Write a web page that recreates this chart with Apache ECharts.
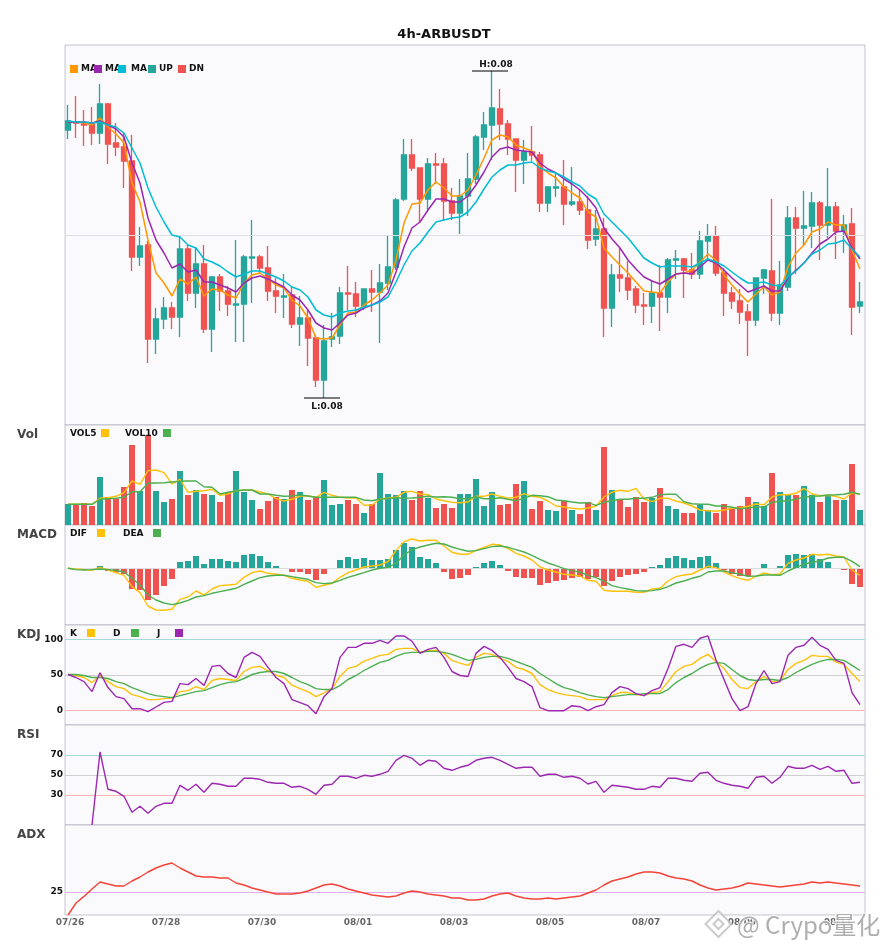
<!DOCTYPE html>
<html>
<head>
<meta charset="utf-8">
<style>html,body{margin:0;padding:0;background:#fff}#chart{width:885px;height:950px}</style>
<script src="https://cdn.jsdelivr.net/npm/echarts@6/dist/echarts.min.js"></script>
</head>
<body>
<div id="chart"></div>
<script>
var chartTitle = '4h-ARBUSDT';
var tickIndexes = [0,12,24,36,48,60,72,84,96];
var tickLabels = ['07/26','07/28','07/30','08/01','08/03','08/05','08/07','08/09','08/11'];

var opens = [0.08105,0.08113,0.08112,0.08111,0.08102,0.08131,0.08092,0.08088,0.08074,0.07978,0.0799,0.07896,0.07916,0.07927,0.07918,0.07986,0.07942,0.07971,0.07906,0.07958,0.07944,0.0793,0.07931,0.07977,0.07978,0.07967,0.07944,0.07938,0.0794,0.07911,0.07917,0.07897,0.07855,0.07896,0.07899,0.07942,0.07941,0.07929,0.07946,0.07943,0.07952,0.07968,0.08036,0.0808,0.08067,0.08036,0.08071,0.08071,0.08034,0.08022,0.08039,0.08056,0.08098,0.0811,0.08126,0.08111,0.08096,0.08075,0.08083,0.0808,0.08032,0.08047,0.08048,0.08031,0.08033,0.08025,0.07996,0.08006,0.07927,0.0796,0.07957,0.07946,0.0793,0.07929,0.07942,0.07938,0.07975,0.07976,0.07965,0.07961,0.07994,0.07999,0.07962,0.07942,0.07934,0.07923,0.07915,0.07957,0.07964,0.07922,0.07948,0.08017,0.08007,0.08009,0.08032,0.0801,0.08028,0.08004,0.08011,0.07929];
var closes = [0.08114,0.08112,0.0811,0.08102,0.08131,0.08091,0.08088,0.08074,0.07978,0.07989,0.07896,0.07916,0.07927,0.07918,0.07986,0.07942,0.07971,0.07906,0.07958,0.07944,0.07931,0.07931,0.07978,0.07978,0.07967,0.07944,0.07939,0.07939,0.07911,0.07917,0.07897,0.07855,0.07894,0.07898,0.07942,0.07941,0.07929,0.07946,0.07943,0.07952,0.07968,0.08035,0.0808,0.08067,0.08036,0.08071,0.0807,0.08034,0.08022,0.08039,0.08056,0.08098,0.0811,0.08127,0.08111,0.08096,0.08075,0.08083,0.0808,0.08032,0.08048,0.08048,0.08031,0.08033,0.08025,0.07995,0.08006,0.07927,0.0796,0.07957,0.07945,0.0793,0.07929,0.07942,0.07938,0.07975,0.07976,0.07965,0.07961,0.07994,0.07999,0.07962,0.07942,0.07934,0.07923,0.07915,0.07957,0.07965,0.07922,0.0795,0.08017,0.08007,0.08009,0.08032,0.0801,0.08028,0.08004,0.0801,0.07928,0.07933];
var lows = [0.08096,0.08097,0.08089,0.0809,0.08091,0.08071,0.08079,0.08047,0.07964,0.07969,0.07872,0.07881,0.07906,0.07906,0.07898,0.07934,0.07927,0.07902,0.07883,0.07924,0.07919,0.07893,0.07893,0.07932,0.07961,0.07934,0.07922,0.07917,0.07907,0.07889,0.07869,0.07848,0.07837,0.07888,0.07891,0.07925,0.07918,0.07925,0.07923,0.07892,0.07945,0.07965,0.08034,0.08064,0.08012,0.08025,0.08051,0.08015,0.08015,0.08001,0.08019,0.08051,0.08085,0.08075,0.08095,0.0808,0.08043,0.08051,0.08074,0.08023,0.08023,0.08038,0.0801,0.08029,0.0802,0.07986,0.07989,0.07898,0.07908,0.07943,0.07935,0.07922,0.0791,0.07912,0.07904,0.07922,0.07956,0.07937,0.07956,0.07956,0.07975,0.07959,0.07919,0.07926,0.07911,0.07879,0.07909,0.07941,0.07914,0.0791,0.07944,0.07961,0.0799,0.07987,0.07975,0.07997,0.07976,0.07982,0.079,0.07922];
var highs = [0.0813,0.08139,0.08125,0.08128,0.08151,0.08132,0.08112,0.08102,0.081,0.08008,0.07994,0.07927,0.07938,0.07933,0.08,0.0799,0.07988,0.0799,0.07959,0.07961,0.07949,0.07995,0.0798,0.08015,0.0798,0.07989,0.07957,0.07961,0.07948,0.07939,0.07925,0.079,0.0791,0.07922,0.07948,0.07969,0.07953,0.07946,0.07965,0.07971,0.07999,0.08037,0.08096,0.08096,0.08067,0.08077,0.08082,0.08077,0.08047,0.08056,0.08082,0.081,0.08123,0.08164,0.08146,0.08115,0.08096,0.08095,0.08109,0.08083,0.08049,0.08061,0.08075,0.08068,0.08045,0.08039,0.08025,0.08017,0.07971,0.07987,0.07974,0.07949,0.07942,0.07955,0.0797,0.07977,0.07985,0.07977,0.07982,0.08004,0.08011,0.08009,0.07967,0.07948,0.07946,0.07931,0.07957,0.07966,0.08036,0.07974,0.08029,0.08028,0.08044,0.08043,0.08034,0.08067,0.08033,0.0802,0.08027,0.07953];
var ma5 = [0.08113,0.08113,0.08112,0.0811,0.08117,0.08108,0.08101,0.08092,0.08052,0.08033,0.07995,0.07962,0.07952,0.07939,0.07956,0.07951,0.07958,0.07939,0.07946,0.07945,0.0794,0.07937,0.07952,0.0796,0.07962,0.07956,0.0795,0.07947,0.07935,0.07929,0.07917,0.07897,0.07896,0.07897,0.0791,0.07922,0.07923,0.0793,0.07935,0.07942,0.0795,0.07975,0.08012,0.08031,0.08032,0.08045,0.08053,0.08047,0.08039,0.08039,0.08045,0.0806,0.08077,0.08095,0.081,0.08098,0.0809,0.08087,0.08084,0.08068,0.08062,0.08057,0.08048,0.08042,0.08037,0.08023,0.08018,0.07987,0.07978,0.0797,0.07962,0.07953,0.07944,0.07943,0.07942,0.07953,0.07961,0.07962,0.07965,0.07973,0.07981,0.07975,0.0796,0.0795,0.07941,0.07933,0.07941,0.07948,0.0794,0.07943,0.07968,0.07982,0.0799,0.08003,0.08006,0.08013,0.0801,0.0801,0.07985,0.07966];
var ma10 = [0.08113,0.08113,0.08113,0.08112,0.08114,0.0811,0.08106,0.08098,0.08072,0.08052,0.08017,0.07995,0.07982,0.07967,0.07971,0.07963,0.07965,0.07953,0.07953,0.0795,0.07947,0.07943,0.07952,0.07957,0.07959,0.07956,0.07952,0.07948,0.0794,0.07935,0.07925,0.07912,0.07907,0.07905,0.07912,0.0792,0.07922,0.07927,0.0793,0.07934,0.07942,0.07963,0.07988,0.08007,0.08013,0.08025,0.08036,0.08036,0.08033,0.08033,0.08039,0.0805,0.08063,0.08078,0.08086,0.08088,0.08085,0.08084,0.08083,0.08072,0.08066,0.08062,0.08056,0.08051,0.08045,0.08037,0.08027,0.08007,0.07996,0.07987,0.07975,0.07966,0.07958,0.07954,0.07951,0.07956,0.07961,0.07962,0.07961,0.07968,0.07975,0.07972,0.07965,0.07957,0.0795,0.07943,0.07946,0.07949,0.07944,0.07944,0.07957,0.07965,0.07972,0.07982,0.07991,0.07996,0.08003,0.08004,0.07987,0.07976];
var ma20 = [0.08114,0.08113,0.08113,0.08112,0.08113,0.0811,0.08108,0.08102,0.08087,0.08072,0.08047,0.08028,0.08013,0.08,0.07998,0.0799,0.07987,0.07976,0.07973,0.07969,0.07963,0.07958,0.07961,0.07964,0.07964,0.07961,0.07958,0.07954,0.07948,0.07945,0.07938,0.07925,0.0792,0.07918,0.07922,0.07924,0.07925,0.07928,0.0793,0.07933,0.07938,0.07953,0.0797,0.07984,0.07992,0.08003,0.08013,0.08015,0.08017,0.08018,0.08023,0.08033,0.08046,0.08058,0.08065,0.0807,0.0807,0.08072,0.08073,0.08067,0.08064,0.08062,0.08058,0.08053,0.08049,0.08041,0.08036,0.08021,0.08013,0.08005,0.07997,0.07987,0.07977,0.07972,0.07968,0.07969,0.07969,0.07969,0.07968,0.07972,0.07976,0.07973,0.07969,0.07963,0.07957,0.07952,0.07952,0.07953,0.0795,0.07949,0.07958,0.07964,0.07972,0.07981,0.07985,0.07991,0.07992,0.07995,0.07986,0.07978];

var volumes = [21,20,22,19,48,28,26,38,80,34,90,34,23,26,54,30,35,31,30,23,33,54,33,25,16,24,28,26,35,33,25,28,45,20,21,25,21,12,21,52,31,30,34,25,34,27,17,21,17,31,31,46,19,33,20,21,41,44,16,24,15,14,24,15,11,23,15,78,35,25,18,28,23,27,37,19,16,12,12,20,15,12,21,16,19,28,23,19,52,33,31,30,39,30,23,30,25,25,61,15];
var vol5 = [20.7,20.7,20.7,20.7,26.7,27.3,28.7,32.3,44,40.7,54.3,55,52.3,41,45.7,32.7,33.7,34.3,35.7,29.7,31,34.3,35,35,33,31,26.3,24,25.7,29,29,27.7,32.7,29.7,27.7,27,27,19.7,20,26,26.7,27.7,32.7,33.7,31,30.3,26,24.3,22.7,22.3,23,28.7,28.7,31,28.7,26.7,27.7,31.3,28.7,27.7,24,19,18,16.7,16,17,19,28,32.7,34.7,33.7,36.7,26,23.3,26.7,26.7,24,22,19,15,14.3,13.7,15,16.7,17,18.7,21,20.3,28,30.3,30.3,31.7,36.7,31,29.3,29.7,28.7,26,32.3,30.7];
var vol10 = [20.7,20.7,20.7,20.7,25.7,26.3,26.7,27.7,33.3,33.3,41.7,42,42.3,43,43.7,44,44,38.3,37.7,31,32.7,34,35,35,31,31,29.7,28.7,29,30,29,27.7,27.7,27.7,27.7,27.7,27.7,25,24.3,26,26.3,27.3,26.7,27,27.7,28.7,28,28.3,27.7,26.3,26.3,28.3,26.3,26.3,27.3,25.7,24.3,26.7,29.7,29.3,28.3,25,24.3,23,22,22.3,19.7,22.7,24.3,25.7,25.7,26.7,26.7,27.7,30.3,30.7,30.7,23.3,21.3,20.7,20.7,19,19,17.7,16.3,17,18,18,22.7,23.7,24.3,25.7,27.7,28.7,29,30,30.3,30.7,32.7,30.7];

var macdHist = [-0.7,-1,-1,-1,2.3,-2.7,-4,-5.7,-20.7,-21.7,-31.7,-26.7,-17.7,-10.7,6.3,7.3,12.3,4.3,9.3,9.3,7.3,6.3,13.3,14.3,12.3,6.3,2.3,0.3,-3.7,-3.7,-5.7,-11.7,-5.7,-0.7,8.3,11.3,9.3,10.3,8.3,8.3,9.3,18.3,25.3,21.3,11.3,9.3,5.3,-3.7,-10.7,-9.7,-6.7,1.3,5.3,7.3,3.3,-2.7,-8.7,-9.7,-9.7,-16.7,-14.7,-12.7,-11.7,-9.7,-8.7,-10.7,-8.7,-17.7,-12.7,-8.7,-6.7,-5.7,-3.7,1.3,3.3,10.3,12.3,10.3,8.3,11.3,12.3,5.3,-2,-5.7,-7.7,-7.7,0,4.3,-0.7,2.3,13.3,14.3,13.3,14.3,9.3,6.3,0,-1.7,-15.7,-18.7];
var dif = [0,-0.7,-1.3,-2,1,-1.7,-4.3,-7,-18.3,-24.3,-37.7,-41.7,-42,-41,-31,-28.7,-22.7,-26.7,-20.7,-17.3,-16.7,-16,-9,-4.3,-2.7,-5,-6,-7,-10,-11.7,-13,-19,-17,-15,-9,-4.3,-1.7,1.3,2.3,3.3,6.7,17.7,26.7,29.3,27.3,28,28,22.3,16,14,14,18,21,24,23.3,20,15,12.3,8.3,1.3,-1.7,-3.7,-6,-6.7,-7.7,-12,-13,-22,-23,-23,-23,-24,-24,-20.7,-20,-12.7,-8.3,-6.7,-5.7,-1.7,2,0.7,-3.7,-7.3,-10.3,-12,-8,-4.7,-6.3,-5.7,5,8.3,10.3,14,13.3,14,12.3,11.3,-1.7,-7];
var dea = [0,-1.3,-1.7,-1.3,-0.7,-1.3,-2,-3.7,-10,-16.7,-26.7,-31.7,-34.7,-36.3,-34.7,-32,-28.7,-27.3,-25,-23.3,-21.7,-20,-16,-12.7,-9.3,-7.7,-7,-7,-8.3,-9.7,-11,-14.3,-15.3,-14.7,-12,-9,-6.7,-4.3,-1.7,0,1,5,13.3,18.7,21.3,23.3,25,24.3,21.3,19,17,17.7,19.7,21.7,22.3,21,18.7,16.3,13,9,5.3,2.7,-0.3,-2.3,-3.7,-7,-9.3,-12.7,-17.3,-19.3,-20.7,-22.3,-22.7,-22.3,-21,-18.3,-14.7,-12.7,-10,-8,-3.7,-2.7,-2.7,-4.3,-6,-8,-7.7,-6.7,-6.7,-7,-2.7,1,4,6,7.3,10.3,11,11,7,1.7];

var kdjK = [50.7,49.3,46.5,39.4,49.3,40.8,33.8,31,22.5,19.7,15.5,15.5,16.9,17.8,26.8,28.2,33.8,29.6,42.3,45.1,43.7,42.3,54.9,60.6,62,55.9,49.8,46.5,35.7,31,26.8,19.7,24.9,31,47.9,59.2,62,69.5,73.2,77.5,78.9,85.9,87.3,87.3,81.7,84.5,84.5,80.3,70.4,66.7,63.4,74.6,80.3,78.9,73.2,69,60.6,57.7,52.1,36.6,29.6,25.4,22.5,21.1,19.7,15.5,15.5,15.5,21.1,25.4,25.4,22.5,21.1,25.4,26.8,40.8,54.9,62,64.8,73.2,78.9,69,59.2,43.7,32.4,31,40.8,47.9,40.8,42.3,57.7,66.2,70.4,77.5,76.1,76.1,68.1,64.8,52.1,40.8];
var kdjD = [50.7,50.7,49.3,46.5,46.5,45.1,40.8,38,32.4,28.2,23.9,21.1,19.7,18.3,21.1,23.9,26.8,28.2,32.4,36.6,39.4,40.8,45.1,50.7,53.5,54.9,54.9,52.1,46.5,40.8,36.6,31,29.6,29.6,35.2,43.7,49.3,56.3,62,67.6,70.4,76.1,80.3,81.7,81.7,83.1,83.1,81.7,78.9,74.6,70.4,71.8,74.6,76.1,76.1,73.2,69,64.8,60.6,52.1,45.1,38,32.4,29.6,25.4,22.1,19.7,18.3,19.7,21.1,22.5,22.5,23.9,23.9,23.9,29.6,39.4,46.5,52.1,59.2,64.8,67.6,66.2,57.7,49.3,43.7,42.3,43.7,43.7,42.3,46.5,53.5,59.2,64.8,69,71.8,71.8,70.4,63.4,56.3];
var kdjJ = [50.7,46.5,40.8,26.8,53.1,32.4,19.7,16.9,2.8,2.8,-1.4,5.2,11.7,13.1,38,36.6,45.1,35.2,62,63.4,52.1,46.5,74.6,81.7,76.1,60.6,46.5,38,15.5,11.3,7,-4.2,19.7,31,74.6,88.7,88.7,94.4,94.4,98.6,94.4,104.7,104.7,97.2,80.3,85.9,88.7,74.6,54.9,49.3,47.9,80.3,90.1,84.5,74.6,60.6,45.1,40.8,33.8,4.2,0,0,0,7,5.6,0,5.6,8.5,25.4,33.8,31,23.9,21.1,28.2,32.4,59.2,90.1,93,88.7,101.4,104.7,70.9,43.7,16.9,0,5.6,38,56.3,38,40.8,77.5,88.7,91.6,102.8,91.6,85.9,70.4,66.2,25.4,8.5];

var rsi = [null,null,null,0,73,35.7,33.7,28.7,12.7,18.7,11.7,18.7,21.7,21.7,39.7,34.7,40.7,32.7,41.7,40.7,38.7,38.7,46.7,46.7,45.7,42.7,41.7,41.7,37.7,38.7,35.7,30.7,39.7,40.7,48.7,48.7,46.7,49.7,48.7,50.7,53.7,64.7,69.7,66.7,59.7,64.7,63.7,56.7,54.7,57.7,59.7,64.7,66.7,67.7,64.7,60.7,56.7,57.7,57.7,48.7,50.7,50.7,47.7,48.7,46.7,41,43.7,32.7,39.7,38.7,37.7,35.7,35.7,38.7,37.7,46.7,46.7,44.7,43.7,51.7,52.7,44.7,41.7,39.7,38.7,36.7,47.7,48.7,41.7,47.7,58.7,56.7,56.7,59.7,55.7,58.7,53.7,54.7,41.7,42.7];
var adx = [13.5,19.5,22.8,26.5,30,29,28,28,30.5,32.5,35,37,38.5,39.5,37,35,33,32.5,32.5,32,32,29.5,28.5,27,26,25,24,24,24,24.5,25.5,27,28.5,29,28,26.5,25.5,24.5,23.5,23,22.5,23,24.5,25.5,25,24,23.5,23,22,22,21,21,21.5,23,24,24.5,23,22,21.5,21.5,22,21.5,22,22.5,23,24.5,26,28.5,30.5,31.5,32.5,34,35,35,34.5,33,32,31.5,30.5,28.5,27,26,26.5,27,28,29.5,29,28.5,28,27.5,28,28.5,29,30,29.5,30,29.5,29,28.5,28];

var UP = '#26a69a', DN = '#ef5350';
var FONT = '"DejaVu Sans", sans-serif';
var GRID_BORDER = 'rgba(150,150,170,0.55)';
var PANEL_BG = '#fafafd';
var panels = [{top:45,h:380},{top:425,h:100},{top:525,h:100},{top:625,h:100},{top:725,h:100},{top:825,h:90}];
var X_MIN = -0.375, X_MAX = 99.625;

function pairs(a){ return a.map(function(v,i){ return [i,v]; }); }
function refLine(v,color){ return {yAxis:v, lineStyle:{color:color,width:1,type:'solid'}}; }
function hl(lines){ return {silent:true, symbol:'none', animation:false, label:{show:false}, data:lines}; }
function line(name,vals,color,gi,extra){
  var s = {name:name,type:'line',data:pairs(vals),xAxisIndex:gi,yAxisIndex:gi,showSymbol:false,symbol:'none',
    lineStyle:{color:color,width:gi===0?1.5:1.4},itemStyle:{color:color},animation:false,z:5};
  if(extra) for(var k in extra) s[k]=extra[k];
  return s;
}
var grids = panels.map(function(p){ return {left:65,width:800,top:p.top,height:p.h,show:true,backgroundColor:PANEL_BG,borderColor:GRID_BORDER,borderWidth:1,containLabel:false}; });
var xAxes = panels.map(function(p,i){
  var last = i===panels.length-1;
  return {type:'value',gridIndex:i,min:X_MIN,max:X_MAX,splitLine:{show:false},axisLine:{show:false},axisTick:{show:false},
    axisLabel: last ? {show:true,customValues:tickIndexes,margin:3,padding:[0,0,0,4],fontFamily:FONT,fontSize:9,fontWeight:'bold',color:'#666',
      formatter:function(v){ return tickLabels[tickIndexes.indexOf(v)]; }} : {show:false}};
});
function yAx(i,min,max,labels){
  return {type:'value',gridIndex:i,min:min,max:max,scale:true,splitLine:{show:false},axisLine:{show:false},axisTick:{show:false},
    axisLabel: labels ? {show:true,customValues:labels,margin:2,fontFamily:FONT,fontSize:9,fontWeight:'bold',color:'#111'} : {show:false}};
}
var yAxes = [yAx(0,0.0781,0.0819),yAx(1,0,100),yAx(2,-56.7,43.3),yAx(3,-20,120,[0,50,100]),yAx(4,0,100,[30,50,70]),yAx(5,13.5,58.5,[25])];

var hiIdx = highs.indexOf(Math.max.apply(null,highs));
var loIdx = lows.indexOf(Math.min.apply(null,lows));
function extreme(idx,val,txt,dx,dy){
  return {coord:[idx,val],symbol:'rect',symbolSize:[36,1],symbolOffset:[-2,0],itemStyle:{color:'#000'},
    label:{show:true,formatter:txt+val.toFixed(2),position:'inside',offset:[dx,dy],color:'#111',fontFamily:FONT,fontSize:9,fontWeight:'bold'}};
}
var candleData = opens.map(function(o,i){
  var c = closes[i]>=o ? UP : DN;
  return {value:[i,o,closes[i],lows[i],highs[i]],
    itemStyle:{color:c,color0:c,borderColor:c,borderColor0:c,borderColorDoji:c,borderWidth:1.3}};
});
var volBars = volumes.map(function(v,i){ return {value:[i,v],itemStyle:{color:closes[i]>=opens[i]?UP:DN}}; });
var histBars = macdHist.map(function(v,i){ return {value:[i,v],itemStyle:{color:v>=0?UP:DN}}; });

var series = [
  {name:'K线',type:'candlestick',data:candleData,xAxisIndex:0,yAxisIndex:0,barWidth:5,animation:false,z:3,
    encode:{x:0,y:[1,2,3,4]},
    itemStyle:{color:UP,color0:DN,borderColor:UP,borderColor0:DN,borderColorDoji:UP,borderWidth:1.3},
    markLine:hl([refLine(0.08,'#dddde4')]),
    markPoint:{animation:false,silent:true,data:[extreme(hiIdx,highs[hiIdx],'H:',6,-6),extreme(loIdx,lows[loIdx],'L:',5,9)]}},
  line('MA5',ma5,'#FF9800',0),
  line('MA10',ma10,'#9C27B0',0),
  line('MA20',ma20,'#00BCD4',0),
  {name:'Vol',type:'bar',data:volBars,xAxisIndex:1,yAxisIndex:1,barWidth:6,animation:false,z:3},
  line('VOL5',vol5,'#FFC107',1),
  line('VOL10',vol10,'#4CAF50',1),
  {name:'MACD',type:'bar',data:histBars,xAxisIndex:2,yAxisIndex:2,barWidth:6,animation:false,z:3,markLine:hl([refLine(0,'#dddddd')])},
  line('DIF',dif,'#FFC107',2),
  line('DEA',dea,'#4CAF50',2),
  line('K',kdjK,'#FFC107',3,{markLine:hl([refLine(100,'#a6dada'),refLine(50,'#cfcfcf'),refLine(0,'#ffb3b3')])}),
  line('D',kdjD,'#4CAF50',3),
  line('J',kdjJ,'#9C27B0',3),
  line('RSI',rsi,'#9C27B0',4,{markLine:hl([refLine(70,'#a6dada'),refLine(50,'#cfcfcf'),refLine(30,'#ffb3b3')])}),
  line('ADX',adx,'#F44336',5,{markLine:hl([refLine(25,'#e0aee8')])})
];

var g = [];
function txt(x,y,s,size,color,weight,align){
  g.push({type:'text',x:x,y:y,silent:true,z:50,style:{text:s,fill:color,font:(weight||'bold')+' '+size+'px '+FONT,textAlign:align||'left',textVerticalAlign:'middle'}});
}
function sq(x,y,c){ g.push({type:'rect',shape:{x:x,y:y,width:8,height:8},silent:true,z:50,style:{fill:c}}); }
[['Vol',435],['MACD',535],['KDJ',635],['RSI',735],['ADX',835]].forEach(function(p){ txt(17,p[1],p[0],12,'#444'); });
[[70,'MA',81,'#FF9800'],[94,'MA',105,'#9C27B0'],[118,'MA',131,'#00BCD4'],[148,'UP',159,UP],[178,'DN',189,DN]].forEach(function(p){ txt(p[2],69,p[1],9,'#111'); sq(p[0],65,p[3]); });
[[70,'VOL5',101,'#FFC107'],[125,'VOL10',163,'#4CAF50']].forEach(function(p){ txt(p[0],433.5,p[1],9,'#111'); sq(p[2],429,p[3]); });
[[70,'DIF',97,'#FFC107'],[123,'DEA',153,'#4CAF50']].forEach(function(p){ txt(p[0],533.5,p[1],9,'#111'); sq(p[2],529,p[3]); });
[[70,'K',87,'#FFC107'],[113,'D',131,'#4CAF50'],[157,'J',175,'#9C27B0']].forEach(function(p){ txt(p[0],633.5,p[1],9,'#111'); sq(p[2],629,p[3]); });

// watermark
var wmFill = 'rgba(130,130,130,0.65)';
g.push({type:'text',x:737,y:925,silent:true,z:60,style:{text:'@ Crypo量化',fill:wmFill,stroke:'rgba(255,255,255,0.85)',lineWidth:2,
  font:'24px "Noto Sans CJK SC", "Noto Sans", sans-serif',textVerticalAlign:'middle'}});
[[718.5,924,13],[718.5,924,5]].forEach(function(d){
  g.push({type:'polygon',silent:true,z:60,shape:{points:[[d[0],d[1]-d[2]],[d[0]+d[2],d[1]],[d[0],d[1]+d[2]],[d[0]-d[2],d[1]]]},
    style:{fill:'rgba(255,255,255,0.6)',stroke:'rgba(190,190,190,0.8)',lineWidth:2}});
});

var chart = echarts.init(document.getElementById('chart'),null,{renderer:'canvas'});
chart.setOption({
  animation:false,
  backgroundColor:'#fff',
  title:{text:chartTitle,left:444,top:27.5,textAlign:'center',textStyle:{fontFamily:FONT,fontSize:13,fontWeight:'bold',color:'#111',lineHeight:14},padding:0},
  grid:grids,xAxis:xAxes,yAxis:yAxes,series:series,graphic:g
});
</script>
</body>
</html>
